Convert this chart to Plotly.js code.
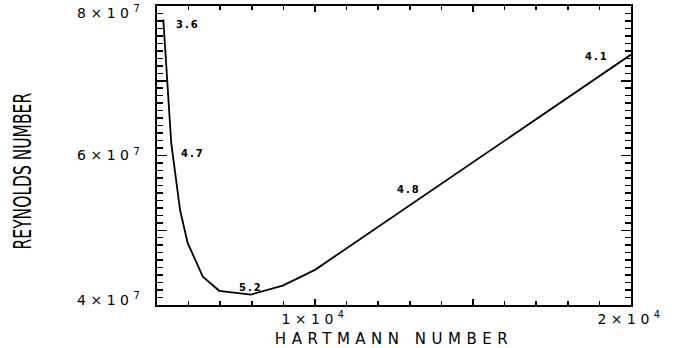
<!DOCTYPE html>
<html>
<head>
<meta charset="utf-8">
<script src="https://cdn.plot.ly/plotly-3.0.1.min.js"></script>
<style>
  html, body { margin: 0; padding: 0; background: #fff; }
  #chart { width: 691px; height: 348px; }
  .xtick text, .ytick text { letter-spacing: 4.5px; }
  .xtitle { letter-spacing: 5.5px; }
  .annotation-text { letter-spacing: 2px; }
  .ytitle {
    transform-box: fill-box;
    transform-origin: center;
    transform: translate(-10px, 21px) rotate(-90deg) scaleY(1.55);
  }
</style>
</head>
<body>
<div id="chart"></div>
<script>
// Critical Reynolds number as a function of Hartmann number
const hartmann = [5200, 5450, 5730, 5970, 6450, 6970, 7970, 8980, 10000, 20000];
const reynolds = [7.82e7, 6.17e7, 5.27e7, 4.83e7, 4.38e7, 4.19e7, 4.14e7, 4.26e7, 4.47e7, 7.35e7];

// Wavenumber labels placed along the curve
const waveLabels = ['3.6', '4.7', '5.2', '4.8', '4.1'];
const waveLabelX = [5970, 6140, 7960, 12960, 18910];
const waveLabelY = [7.75e7, 6.03e7, 4.24e7, 5.54e7, 7.32e7];

// Axis ticks
const xMajorTicks = [5000, 10000, 15000, 20000];
const xTickText = ['', '1×10<sup>4</sup>', '', '2×10<sup>4</sup>'];
const yMajorTicks = [4e7, 5e7, 6e7, 7e7, 8e7];
const yTickText = ['4×10<sup>7</sup>', '', '6×10<sup>7</sup>', '', '8×10<sup>7</sup>'];

const tickFont = { family: 'DejaVu Sans, sans-serif', size: 14, color: '#000' };

const trace = {
  x: hartmann,
  y: reynolds,
  type: 'scatter',
  mode: 'lines',
  line: { color: '#000', width: 1.8 },
  hoverinfo: 'skip'
};

const annotations = waveLabels.map((t, i) => ({
  x: waveLabelX[i],
  y: waveLabelY[i],
  xref: 'x',
  yref: 'y',
  text: t,
  showarrow: false,
  font: { family: 'DejaVu Sans, sans-serif', size: 10, color: '#000', weight: 'bold' }
}));

const layout = {
  width: 691,
  height: 348,
  margin: { l: 157, r: 60, t: 6, b: 43 },
  paper_bgcolor: '#fff',
  plot_bgcolor: '#fff',
  showlegend: false,
  xaxis: {
    range: [5000, 20000.5],
    tickmode: 'array',
    tickvals: xMajorTicks,
    ticktext: xTickText,
    ticks: 'inside',
    ticklen: 6,
    tickwidth: 1.5,
    tickcolor: '#000',
    minor: { dtick: 1000, tick0: 5000, ticks: 'inside', ticklen: 4, tickwidth: 1.5, tickcolor: '#000' },
    showgrid: false,
    zeroline: false,
    showline: true,
    linecolor: '#000',
    linewidth: 2,
    mirror: 'allticks',
    tickfont: tickFont,
    ticklabeloverflow: 'allow',
    title: {
      text: 'HARTMANN NUMBER',
      font: { family: 'DejaVu Sans, sans-serif', size: 15, color: '#000' },
      standoff: 8
    }
  },
  yaxis: {
    range: [3.9999e7, 8.0001e7],
    tickmode: 'array',
    tickvals: yMajorTicks,
    ticktext: yTickText,
    ticks: 'inside',
    ticklen: 10,
    tickwidth: 1.5,
    tickcolor: '#000',
    minor: { dtick: 1e6, tick0: 4e7, ticks: 'inside', ticklen: 6, tickwidth: 1.5, tickcolor: '#000' },
    showgrid: false,
    zeroline: false,
    showline: true,
    linecolor: '#000',
    linewidth: 2,
    mirror: 'allticks',
    tickfont: tickFont,
    ticklabeloverflow: 'allow',
    ticklabelstandoff: 8,
    title: {
      text: 'REYNOLDS NUMBER',
      font: { family: 'DejaVu Sans, sans-serif', size: 15.5, color: '#000' },
      standoff: 40
    }
  },
  annotations: annotations
};

// The end labels of the y axis sit slightly inward from their ticks
const yLabelNudge = { '8': 7, '4': -5 };

Plotly.newPlot('chart', [trace], layout, { staticPlot: true, displayModeBar: false }).then(() => {
  document.querySelectorAll('.ytick text').forEach(el => {
    const lead = el.textContent.charAt(0);
    if (yLabelNudge[lead] !== undefined && el.textContent.length > 1) {
      el.style.translate = '0px ' + yLabelNudge[lead] + 'px';
    }
  });
});
</script>
</body>
</html>
